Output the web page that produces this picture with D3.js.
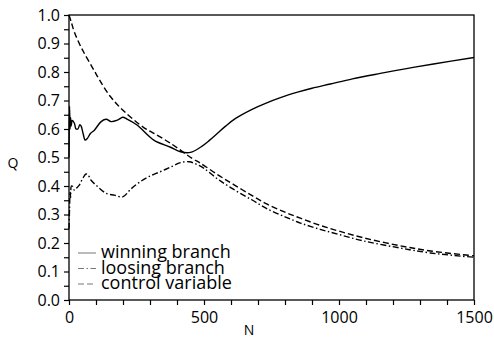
<!DOCTYPE html>
<html>
<head>
  <meta charset="utf-8">
  <style>
    body { margin: 0; background: #fff; }
    text { font-family: "Open Sans", "DejaVu Sans", sans-serif; fill: #000; }
  </style>
</head>
<body>
  <script src="https://cdn.jsdelivr.net/npm/d3@7"></script>
  <script>
    // values: N (iterations) and Q
    var winN = [0, 2, 4, 6, 8, 12, 20, 26, 33, 40, 45, 52, 60, 68, 80, 94, 119, 138, 156, 181, 199, 215, 252, 314, 376, 413, 450, 487, 520, 543, 580, 617, 678, 728, 783, 850, 900, 968, 1050, 1153, 1250, 1350, 1500];
    var winQ = [0.5, 0.68, 0.6, 0.64, 0.61, 0.63, 0.62, 0.6, 0.6, 0.615, 0.61, 0.585, 0.561, 0.567, 0.585, 0.596, 0.626, 0.634, 0.626, 0.632, 0.641, 0.635, 0.614, 0.561, 0.536, 0.52, 0.518, 0.536, 0.56, 0.579, 0.61, 0.637, 0.669, 0.69, 0.71, 0.73, 0.743, 0.758, 0.776, 0.795, 0.812, 0.828, 0.851];

    var loseN = [0, 2, 4, 6, 9, 14, 20, 27, 38, 51, 63, 70, 81, 106, 138, 168, 199, 230, 264, 300, 338, 380, 413, 445, 475, 500, 550, 610, 680, 734, 800, 857, 930, 999, 1092, 1217, 1339, 1500];
    var loseQ = [0.25, 0.32, 0.38, 0.36, 0.4, 0.398, 0.385, 0.392, 0.403, 0.427, 0.442, 0.44, 0.421, 0.398, 0.374, 0.368, 0.362, 0.39, 0.415, 0.435, 0.45, 0.468, 0.482, 0.485, 0.475, 0.462, 0.425, 0.388, 0.35, 0.32, 0.292, 0.27, 0.248, 0.23, 0.207, 0.184, 0.165, 0.15];

    var ctrlN = [0, 10, 20, 43, 60, 92, 113, 154, 205, 277, 314, 376, 456, 487, 550, 610, 680, 734, 800, 857, 930, 999, 1092, 1217, 1339, 1500];
    var ctrlQ = [1.0, 0.97, 0.94, 0.89, 0.86, 0.807, 0.772, 0.713, 0.661, 0.605, 0.585, 0.55, 0.497, 0.48, 0.44, 0.405, 0.365, 0.336, 0.308, 0.287, 0.262, 0.242, 0.218, 0.192, 0.172, 0.155];

    var xTicks = [0, 500, 1000, 1500];
    var legendLabels = ["winning branch", "loosing branch", "control variable"];

    var width = 494, height = 340;
    var svg = d3.select("body").append("svg")
        .attr("width", width)
        .attr("height", height);

    var x = d3.scaleLinear().domain([0, 1500]).range([69, 474]);
    var y = d3.scaleLinear().domain([0, 1]).range([300, 15]);

    // frame
    svg.append("rect")
        .attr("x", x(0)).attr("y", y(1))
        .attr("width", x(1500) - x(0)).attr("height", y(0) - y(1))
        .attr("fill", "none").attr("stroke", "#000").attr("stroke-width", 1.3);

    // y axis: labelled ticks plus minor ticks at 0.05
    var yAxis = svg.append("g")
        .attr("transform", "translate(" + x(0) + ",0)")
        .call(d3.axisLeft(y).tickValues(d3.range(0, 1.001, 0.05)).tickSize(5).tickPadding(4)
          .tickFormat(function(d) {
            var r = Math.round(d * 100);
            return r % 10 === 0 ? d3.format(".1f")(d) : "";
          }));
    yAxis.select(".domain").remove();

    var xAxis = svg.append("g")
        .attr("transform", "translate(0," + y(0) + ")")
        .call(d3.axisBottom(x).tickValues(d3.range(0, 1501, 100)).tickSize(5).tickPadding(7)
          .tickFormat(function(d) { return xTicks.indexOf(d) >= 0 ? d : ""; }));
    xAxis.select(".domain").remove();

    svg.selectAll(".tick line").attr("stroke", "#000").attr("stroke-width", 1.2);
    svg.selectAll(".tick text").style("font-size", "16px").attr("fill", "#000");

    // axis labels
    svg.append("text")
        .attr("x", 13).attr("y", 168)
        .attr("text-anchor", "middle")
        .style("font-size", "14px")
        .text("Q");

    svg.append("text")
        .attr("x", 249).attr("y", 335)
        .attr("text-anchor", "middle")
        .style("font-size", "14px")
        .text("N");

    var line = d3.line()
        .x(function(d) { return x(d[0]); })
        .y(function(d) { return y(d[1]); })
        .curve(d3.curveCatmullRom.alpha(0.5));

    var series = [
      { name: legendLabels[0], data: d3.zip(winN, winQ), dash: null },
      { name: legendLabels[1], data: d3.zip(loseN, loseQ), dash: "6,2.5,1.5,2.5" },
      { name: legendLabels[2], data: d3.zip(ctrlN, ctrlQ), dash: "6,3" }
    ];

    svg.selectAll(".series")
        .data(series)
        .enter().append("path")
        .attr("class", "series")
        .attr("d", function(d) { return line(d.data); })
        .attr("fill", "none")
        .attr("stroke", "#000")
        .attr("stroke-width", 1.4)
        .attr("stroke-dasharray", function(d) { return d.dash; });

    // legend
    var legend = svg.selectAll(".legend")
        .data(series)
        .enter().append("g")
        .attr("class", "legend")
        .attr("transform", function(d, i) { return "translate(78," + (253 + 15.5 * i) + ")"; });

    legend.append("line")
        .attr("x1", 0).attr("x2", 18)
        .attr("stroke", "#777")
        .attr("stroke-width", 1)
        .attr("stroke-dasharray", function(d) { return d.dash; });

    legend.append("text")
        .attr("x", 23)
        .attr("y", 5)
        .style("font-size", "18px")
        .text(function(d) { return d.name; });
  </script>
</body>
</html>
